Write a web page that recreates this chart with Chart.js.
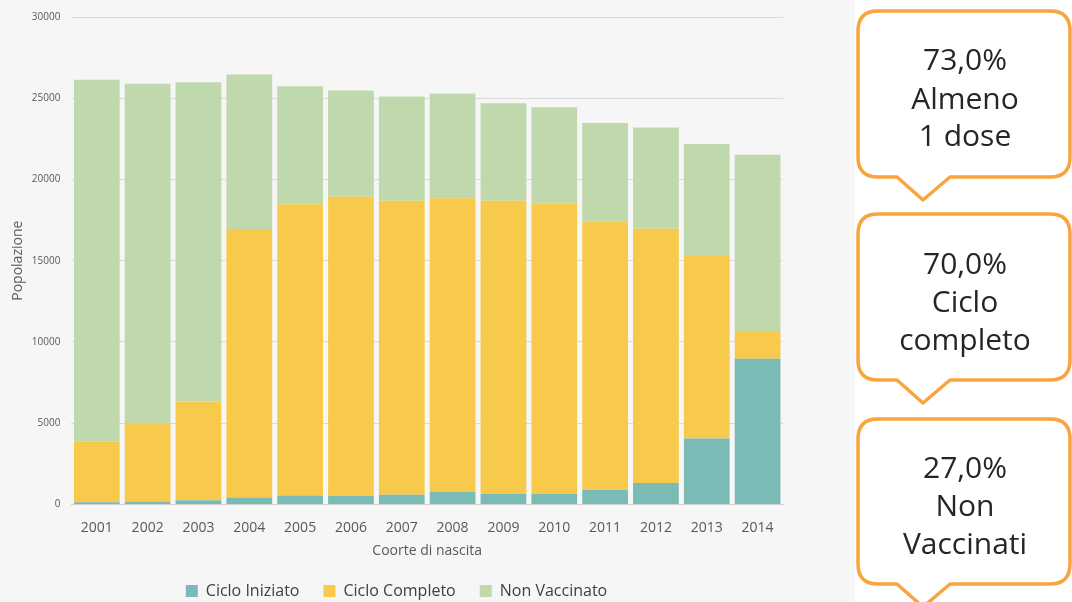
<!DOCTYPE html>
<html>
<head>
<meta charset="utf-8">
<script src="https://cdn.jsdelivr.net/npm/chart.js@4.4.1/dist/chart.umd.min.js"></script>
<style>
  html, body { margin: 0; padding: 0; }
  body { width: 1072px; height: 602px; background: #f6f6f6; position: relative; overflow: hidden; font-family: "Open Sans", sans-serif; }
  #wrap { position: absolute; left: 0; top: 0; width: 795px; height: 602px; }
  #side { position: absolute; left: 855px; top: 0; width: 217px; height: 602px; background: #ffffff; }
  #callouts { position: absolute; left: 0; top: 0; }
</style>
</head>
<body>
<div id="wrap"><canvas id="chart"></canvas></div>
<div id="side"></div>
<svg id="callouts" width="1072" height="602"></svg>
<script>
// Dati: popolazione per coorte di nascita
const anni = ['2001', '2002', '2003', '2004', '2005', '2006', '2007', '2008', '2009', '2010', '2011', '2012', '2013', '2014'];
const cicloIniziato = [140, 185, 250, 430, 555, 535, 600, 760, 640, 640, 905, 1320, 4055, 8970];
const cicloCompleto = [3710, 4815, 6090, 16525, 17920, 18395, 18085, 18090, 18045, 17900, 16500, 15640, 11300, 1710];
const nonVaccinato = [22280, 20885, 19650, 9510, 7265, 6545, 6420, 6440, 6010, 5905, 6070, 6235, 6830, 10845];

// Riquadri a destra
const riquadri = [
    { top: 11, bottom: 177, righe: ['73,0%', 'Almeno', '1 dose'], y: [58, 97, 134] },
    { top: 214, bottom: 380, righe: ['70,0%', 'Ciclo', 'completo'], y: [262, 300, 338] },
    { top: 419, bottom: 584, righe: ['27,0%', 'Non', 'Vaccinati'], y: [466, 504, 542] }
];

const grigio = '#595959';

const ctx = document.getElementById('chart').getContext('2d');
new Chart(ctx, {
    type: 'bar',
    data: {
        labels: anni,
        datasets: [
            { label: 'Ciclo Iniziato', data: cicloIniziato, backgroundColor: '#7bbbb6' },
            { label: 'Ciclo Completo', data: cicloCompleto, backgroundColor: '#f8ca4b' },
            { label: 'Non Vaccinato', data: nonVaccinato, backgroundColor: '#bfd9ad' }
        ]
    },
    options: {
        responsive: true,
        maintainAspectRatio: false,
        animation: false,
        datasets: { bar: { categoryPercentage: 1.0, barPercentage: 0.9 } },
        layout: { padding: { top: 12, right: 12, left: 10, bottom: -7 } },
        scales: {
            x: {
                stacked: true,
                grid: { display: false, drawTicks: false },
                border: { color: '#d0d0d0', width: 1 },
                ticks: { color: grigio, font: { family: 'Open Sans', size: 14 }, padding: 15 },
                title: { display: true, text: 'Coorte di nascita', color: grigio, font: { family: 'Open Sans', size: 14 }, padding: { top: -9, bottom: 0 } }
            },
            y: {
                stacked: true,
                min: 0,
                max: 30000,
                grid: { color: '#dadada', drawTicks: false },
                border: { display: false },
                ticks: {
                    stepSize: 5000, color: grigio, font: { family: 'Open Sans', size: 10 }, padding: 11,
                    callback: v => String(v)
                },
                title: { display: true, text: 'Popolazione', color: grigio, font: { family: 'Open Sans', size: 14 }, padding: { top: 0, bottom: -6 } }
            }
        },
        plugins: {
            legend: {
                position: 'bottom',
                labels: {
                    boxWidth: 12,
                    boxHeight: 12,
                    padding: 24,
                    color: '#404040',
                    font: { family: 'Open Sans', size: 16 }
                }
            },
            tooltip: { enabled: false }
        }
    }
});

// Disegno dei riquadri (callout) con SVG
const svg = document.getElementById('callouts');
const ns = 'http://www.w3.org/2000/svg';
riquadri.forEach(r => {
    const x0 = 858, x1 = 1070, rad = 20, px0 = 897, pxTip = 923, px1 = 950;
    const d = `M ${x0 + rad} ${r.top} L ${x1 - rad} ${r.top} Q ${x1} ${r.top} ${x1} ${r.top + rad}` +
        ` L ${x1} ${r.bottom - rad} Q ${x1} ${r.bottom} ${x1 - rad} ${r.bottom}` +
        ` L ${px1} ${r.bottom} L ${pxTip} ${r.bottom + 23} L ${px0} ${r.bottom}` +
        ` L ${x0 + rad} ${r.bottom} Q ${x0} ${r.bottom} ${x0} ${r.bottom - rad}` +
        ` L ${x0} ${r.top + rad} Q ${x0} ${r.top} ${x0 + rad} ${r.top} Z`;
    const path = document.createElementNS(ns, 'path');
    path.setAttribute('d', d);
    path.setAttribute('fill', '#ffffff');
    path.setAttribute('stroke', '#f9a43e');
    path.setAttribute('stroke-width', '3.5');
    path.setAttribute('stroke-linejoin', 'round');
    svg.appendChild(path);
    r.righe.forEach((t, i) => {
        const txt = document.createElementNS(ns, 'text');
        txt.setAttribute('x', 965);
        txt.setAttribute('y', r.y[i]);
        txt.setAttribute('text-anchor', 'middle');
        txt.setAttribute('dominant-baseline', 'central');
        txt.setAttribute('font-family', 'Open Sans');
        txt.setAttribute('font-size', '30');
        txt.setAttribute('fill', '#262626');
        txt.textContent = t;
        svg.appendChild(txt);
    });
});
</script>
</body>
</html>
